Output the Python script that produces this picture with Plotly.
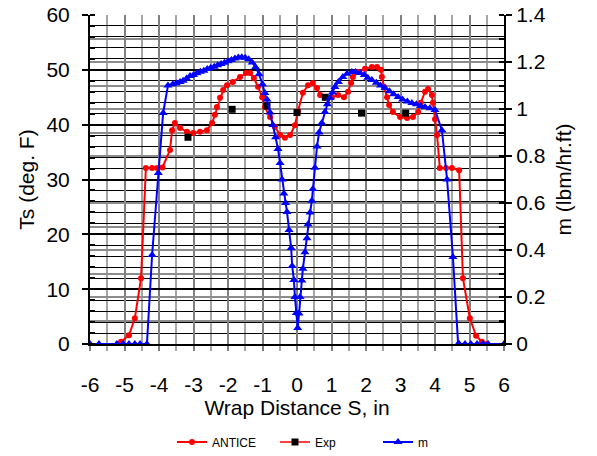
import plotly.graph_objects as go

# ANTICE surface temperature (left axis, deg F)
antice_x = [-5.20, -5.10, -4.87, -4.70, -4.52, -4.38, -4.20, -4.05, -3.90, -3.68, -3.62, -3.54,
            -3.39, -3.19, -3.01, -2.81, -2.61, -2.46, -2.38, -2.32, -2.23, -2.14, -2.03, -1.86,
            -1.65, -1.48, -1.36, -1.25, -1.13, -1.01, -0.93, -0.78, -0.64, -0.49, -0.35, -0.20,
            -0.06, 0.03, 0.17, 0.32, 0.46, 0.58, 0.67, 0.81, 1.01, 1.19, 1.36, 1.48, 1.57, 1.62,
            1.77, 1.97, 2.17, 2.32, 2.43, 2.46, 2.52, 2.61, 2.67, 2.78, 2.99, 3.19, 3.36, 3.51,
            3.59, 3.71, 3.80, 3.91, 3.94, 4.00, 4.06, 4.14, 4.32, 4.49, 4.70, 4.81, 5.01, 5.19,
            5.36, 5.50]
antice_y = [0.0, 0.4, 1.6, 4.7, 12.0, 32.1, 32.1, 32.1, 32.2, 35.4, 39.0, 40.3,
            39.4, 38.7, 38.5, 38.7, 39.0, 40.3, 41.8, 43.2, 44.9, 46.3, 47.2, 47.8,
            48.7, 49.4, 49.4, 48.5, 46.9, 45.0, 43.2, 41.4, 39.6, 38.1, 37.6, 38.1,
            39.9, 42.5, 45.8, 47.2, 47.6, 46.7, 45.4, 44.9, 45.0, 45.4, 45.0, 46.0, 47.6, 48.7,
            49.6, 50.2, 50.5, 50.5, 50.0, 48.7, 46.9, 45.0, 43.6, 42.3, 41.4, 41.2, 41.4, 42.3,
            44.0, 46.0, 46.5, 45.4, 44.0, 41.0, 38.1, 32.1, 32.1, 32.1, 31.7, 12.0, 4.7, 1.5,
            0.4, 0.0]

# Experimental points (left axis)
exp_x = [-3.16, -1.88, -0.87, 0.0, 0.82, 1.87, 3.15]
exp_y = [37.7, 42.8, 43.4, 42.2, 45.0, 42.1, 42.1]

# m, lbm/hr.ft (right axis)
m_x = [-6.0, -5.74, -5.22, -5.04, -4.87, -4.70, -4.55, -4.35, -4.20, -4.02, -3.88, -3.74,
       -3.60, -3.50, -3.39, -3.30, -3.20, -3.10, -3.00, -2.90, -2.80, -2.70, -2.60, -2.50,
       -2.40, -2.30, -2.20, -2.10, -2.00, -1.90, -1.80, -1.70, -1.60, -1.50, -1.40, -1.30,
       -1.20, -1.10, -1.00, -0.93, -0.87, -0.78, -0.70, -0.62, -0.55, -0.49, -0.43, -0.38,
       -0.33, -0.29, -0.23, -0.17, -0.14, -0.09, -0.06, -0.02, 0.02, 0.06, 0.09, 0.14,
       0.17, 0.23, 0.29, 0.32, 0.38, 0.43, 0.46, 0.52, 0.58, 0.64, 0.72, 0.81, 0.88,
       0.96, 1.03, 1.10, 1.20, 1.33, 1.45, 1.59, 1.70, 1.83, 1.95, 2.05, 2.17, 2.30,
       2.42, 2.55, 2.68, 2.80, 2.93, 3.06, 3.20, 3.33, 3.46, 3.58, 3.71, 3.85, 4.00,
       4.20, 4.35, 4.52, 4.67, 4.70, 4.87, 5.04, 5.22, 5.39, 5.54, 6.0]
m_y = [0.0, 0.0, 0.0, 0.0, 0.0, 0.0, 0.0, 0.0, 0.379, 0.728, 0.983, 1.100,
       1.105, 1.110, 1.115, 1.120, 1.130, 1.140, 1.145, 1.152, 1.158, 1.163, 1.170, 1.175,
       1.180, 1.186, 1.192, 1.197, 1.203, 1.209, 1.215, 1.219, 1.220, 1.218, 1.212, 1.198,
       1.178, 1.148, 1.105, 1.068, 1.040, 0.985, 0.932, 0.880, 0.830, 0.770, 0.700, 0.640,
       0.600, 0.562, 0.485, 0.409, 0.332, 0.272, 0.200, 0.132, 0.068, 0.130, 0.200, 0.270,
       0.320, 0.390, 0.450, 0.510, 0.560, 0.610, 0.660, 0.750, 0.840, 0.900, 0.940, 0.987, 1.020,
       1.047, 1.070, 1.094, 1.115, 1.136, 1.150, 1.157, 1.157, 1.153, 1.145, 1.133, 1.123, 1.112,
       1.100, 1.089, 1.076, 1.063, 1.051, 1.040, 1.032, 1.026, 1.020, 1.013, 1.009, 1.003, 0.996,
       0.910, 0.700, 0.370, 0.0, 0.0, 0.0, 0.0, 0.0, 0.0, 0.0, 0.0]

# Axis tick labels
x_tick_vals = [-6, -5, -4, -3, -2, -1, 0, 1, 2, 3, 4, 5, 6]
x_tick_text = ["-6", "-5", "-4", "-3", "-2", "-1", "0", "1", "2", "3", "4", "5", "6"]

FONT = "Liberation Sans, Arial, sans-serif"
FS = 21

fig = go.Figure()
fig.add_trace(go.Scatter(x=antice_x, y=antice_y, mode="lines+markers", name="ANTICE",
                         line=dict(color="#ff0000", width=2),
                         marker=dict(symbol="circle", size=6, color="#ff0000")))
fig.add_trace(go.Scatter(x=exp_x, y=exp_y, mode="markers", name="Exp", showlegend=False,
                         marker=dict(symbol="square", size=7, color="#000000")))
fig.add_trace(go.Scatter(x=[None], y=[None], mode="lines+markers", name="Exp",
                         line=dict(color="#ff0000", width=1.5),
                         marker=dict(symbol="square", size=7, color="#000000")))
fig.add_trace(go.Scatter(x=m_x, y=m_y, mode="lines+markers", name="m", yaxis="y2",
                         line=dict(color="#0000ff", width=2),
                         marker=dict(symbol="triangle-up", size=8, color="#0000ff")))

fig.update_layout(
    width=597, height=456,
    margin=dict(l=90, r=93, t=15, b=112, autoexpand=False),
    paper_bgcolor="white", plot_bgcolor="white",
    font=dict(family=FONT, size=FS, color="black"),
    showlegend=True,
    legend=dict(orientation="h", xref="container", yref="container",
                x=172 / 597, xanchor="left", y=1 - 442 / 456, yanchor="middle",
                font=dict(family=FONT, size=12, color="black"),
                entrywidth=58, entrywidthmode="pixels", bgcolor="rgba(0,0,0,0)",
                borderwidth=0, tracegroupgap=0, itemwidth=30),
    xaxis=dict(range=[-6, 6], tickmode="array", tickvals=x_tick_vals, ticktext=x_tick_text,
               showline=True, linecolor="black", linewidth=2,
               mirror=False, ticks="outside", ticklen=5, tickcolor="#808080", tickwidth=2,
               showgrid=True, gridcolor="#808080", gridwidth=2, zeroline=False,
               automargin=False, ticklabelstandoff=16,
               minor=dict(dtick=0.5, tick0=0, showgrid=True, gridcolor="#a6a6a6", gridwidth=2,
                          ticks="outside", ticklen=5, tickcolor="#a6a6a6"),
               title=dict(text="Wrap Distance S, in", standoff=4,
                          font=dict(family=FONT, size=FS)),
               tickfont=dict(family=FONT, size=FS)),
    yaxis=dict(range=[0, 60], dtick=10, showline=True, linecolor="black", linewidth=2,
               ticks="outside", ticklen=6, tickcolor="black", tickwidth=2,
               showgrid=True, gridcolor="black", gridwidth=2, zeroline=False,
               automargin=False, ticklabelstandoff=8,
               minor=dict(dtick=2, showgrid=True, gridcolor="black", gridwidth=1,
                          ticks="inside", ticklen=5, tickcolor="black"),
               title=dict(text="Ts (deg. F)", standoff=6, font=dict(family=FONT, size=FS)),
               tickfont=dict(family=FONT, size=FS)),
    yaxis2=dict(range=[0, 1.4], dtick=0.2, overlaying="y", side="right", showline=True,
                linecolor="black", linewidth=2, ticks="outside", ticklen=6, tickcolor="black",
                tickwidth=2, showgrid=True, gridcolor="#8c8c8c", gridwidth=2, zeroline=False,
                tickformat="~g", automargin=False,
                minor=dict(dtick=0.1, showgrid=True, gridcolor="#8c8c8c", gridwidth=2,
                           ticks="inside", ticklen=5, tickcolor="black"),
                title=dict(text="m (lbm/hr.ft)", standoff=12, font=dict(family=FONT, size=FS)),
                tickfont=dict(family=FONT, size=FS)),
)

fig.write_html("out.html")
